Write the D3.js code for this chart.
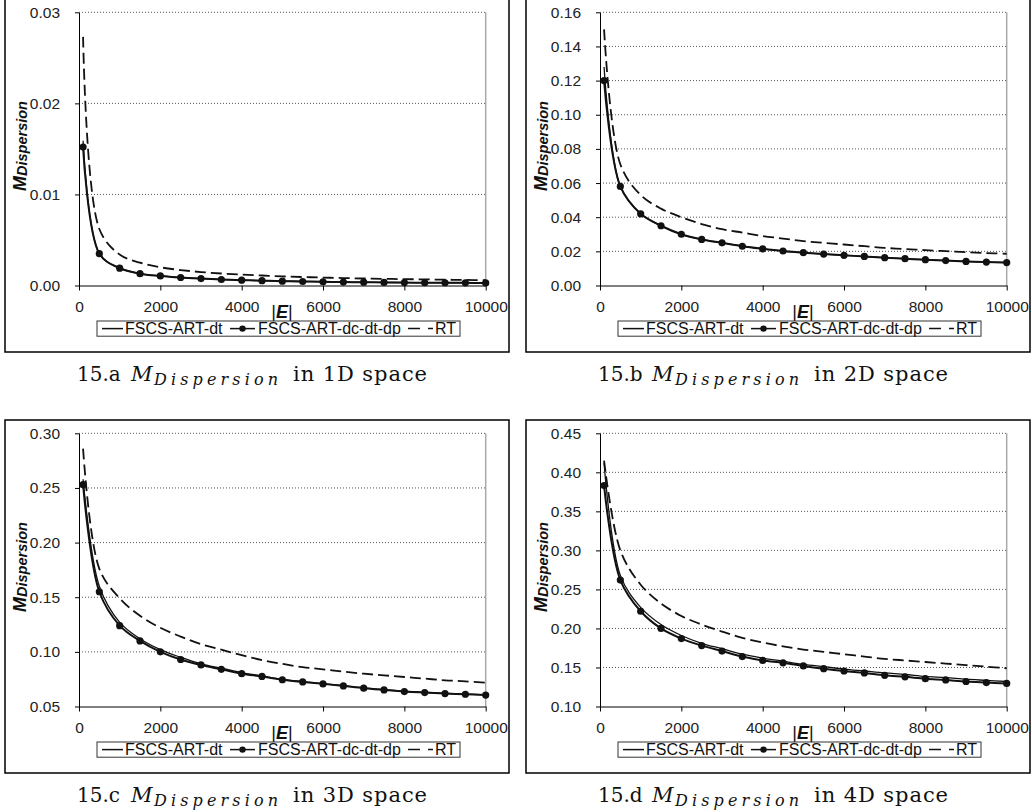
<!DOCTYPE html>
<html>
<head>
<meta charset="utf-8">
<script src="https://cdn.jsdelivr.net/npm/d3@7/dist/d3.min.js"></script>
<style>
  html, body { margin: 0; padding: 0; background: #fff; }
  svg { display: block; }
</style>
</head>
<body>
<svg id="chart" width="1032" height="812"></svg>
<script>
// Number of test cases |E| at which each metric was sampled
const xValues = [100, 500, 1000, 1500, 2000, 2500, 3000, 3500, 4000, 4500, 5000,
                 5500, 6000, 6500, 7000, 7500, 8000, 8500, 9000, 9500, 10000];
const xTicks = [0, 2000, 4000, 6000, 8000, 10000];

const seriesNames = ["FSCS-ART-dt", "FSCS-ART-dc-dt-dp", "RT"];

// 1D space
const dt1D     = [0.0159, 0.0035, 0.0019, 0.0013, 0.00105, 0.00088, 0.00076, 0.00066, 0.00059, 0.00053, 0.00048,
                  0.00044, 0.00041, 0.00038, 0.00036, 0.00034, 0.00032, 0.00031, 0.0003, 0.00029, 0.00028];
const dcdtdp1D = [0.0152, 0.0035, 0.0019, 0.0013, 0.00105, 0.00088, 0.00076, 0.00066, 0.00059, 0.00053, 0.00048,
                  0.00044, 0.00041, 0.00038, 0.00036, 0.00034, 0.00032, 0.00031, 0.0003, 0.00029, 0.00028];
const rt1D     = [0.0273, 0.0062, 0.0034, 0.0025, 0.0020, 0.0017, 0.00148, 0.00132, 0.0012, 0.0011, 0.001,
                  0.00093, 0.00087, 0.00082, 0.00077, 0.00073, 0.0007, 0.00067, 0.00064, 0.00061, 0.00059];
const yTicks1D = [0.00, 0.01, 0.02, 0.03];

// 2D space
const dt2D     = [0.128, 0.058, 0.042, 0.035, 0.030, 0.027, 0.025, 0.023, 0.0215, 0.0202, 0.0192,
                  0.0184, 0.0177, 0.017, 0.0163, 0.0157, 0.0151, 0.0146, 0.0141, 0.0137, 0.0134];
const dcdtdp2D = [0.120, 0.058, 0.042, 0.035, 0.030, 0.027, 0.025, 0.023, 0.0215, 0.0202, 0.0192,
                  0.0184, 0.0177, 0.017, 0.0163, 0.0157, 0.0151, 0.0146, 0.0141, 0.0137, 0.0134];
const rt2D     = [0.150, 0.071, 0.053, 0.045, 0.040, 0.036, 0.033, 0.031, 0.029, 0.0275, 0.026,
                  0.025, 0.024, 0.023, 0.022, 0.0214, 0.0207, 0.0201, 0.0195, 0.019, 0.0186];
const yTicks2D = [0.00, 0.02, 0.04, 0.06, 0.08, 0.10, 0.12, 0.14, 0.16];

// 3D space
const dt3D     = [0.258, 0.160, 0.127, 0.112, 0.102, 0.095, 0.089, 0.085, 0.081, 0.078, 0.0748,
                  0.0728, 0.0709, 0.069, 0.067, 0.0655, 0.064, 0.063, 0.062, 0.0613, 0.0606];
const dcdtdp3D = [0.253, 0.155, 0.124, 0.110, 0.100, 0.093, 0.088, 0.084, 0.080, 0.0775, 0.0745,
                  0.0725, 0.0707, 0.0688, 0.0668, 0.0652, 0.0637, 0.0627, 0.0618, 0.0612, 0.0605];
const rt3D     = [0.286, 0.176, 0.149, 0.133, 0.122, 0.114, 0.107, 0.102, 0.097, 0.0925, 0.089,
                  0.086, 0.084, 0.082, 0.080, 0.0785, 0.077, 0.0755, 0.074, 0.073, 0.0718];
const yTicks3D = [0.05, 0.10, 0.15, 0.20, 0.25, 0.30];

// 4D space
const dt4D     = [0.412, 0.268, 0.227, 0.205, 0.191, 0.181, 0.174, 0.167, 0.162, 0.158, 0.154,
                  0.151, 0.148, 0.1455, 0.143, 0.141, 0.1385, 0.137, 0.135, 0.1335, 0.132];
const dcdtdp4D = [0.383, 0.262, 0.222, 0.200, 0.187, 0.178, 0.171, 0.164, 0.159, 0.156, 0.152,
                  0.1485, 0.1455, 0.143, 0.140, 0.138, 0.1357, 0.134, 0.132, 0.1307, 0.1295];
const rt4D     = [0.415, 0.300, 0.256, 0.232, 0.216, 0.205, 0.196, 0.188, 0.182, 0.177, 0.173,
                  0.170, 0.167, 0.164, 0.161, 0.159, 0.157, 0.155, 0.153, 0.151, 0.149];
const yTicks4D = [0.10, 0.15, 0.20, 0.25, 0.30, 0.35, 0.40, 0.45];

const panels = [
  { ox: 0,   oy: 0,   tag: "15.a", space: "in 1D space", dt: dt1D, dc: dcdtdp1D, rt: rt1D, yTicks: yTicks1D },
  { ox: 521, oy: 0,   tag: "15.b", space: "in 2D space", dt: dt2D, dc: dcdtdp2D, rt: rt2D, yTicks: yTicks2D },
  { ox: 0,   oy: 421, tag: "15.c", space: "in 3D space", dt: dt3D, dc: dcdtdp3D, rt: rt3D, yTicks: yTicks3D },
  { ox: 521, oy: 421, tag: "15.d", space: "in 4D space", dt: dt4D, dc: dcdtdp4D, rt: rt4D, yTicks: yTicks4D }
];

const svg = d3.select("#chart");
const sans = "'Liberation Sans', Arial, Helvetica, sans-serif";
const serif = "'DejaVu Serif', 'Liberation Serif', serif";

panels.forEach(p => {
  const g = svg.append("g").attr("transform", `translate(${p.ox},${p.oy})`);

  // frame around the chart
  g.append("rect")
    .attr("x", 5).attr("y", -1).attr("width", 504).attr("height", 353)
    .attr("fill", "none").attr("stroke", "#000").attr("stroke-width", 1.5);

  const x = d3.scaleLinear().domain([0, 10000]).range([79, 485.7]);
  const yMin = p.yTicks[0], yMax = p.yTicks[p.yTicks.length - 1];
  const y = d3.scaleLinear().domain([yMin, yMax]).range([285.5, 12.3]);

  // dotted horizontal gridlines
  g.append("g").selectAll("line")
    .data(p.yTicks.slice(1))
    .join("line")
    .attr("x1", x(0)).attr("x2", x(10000))
    .attr("y1", d => y(d)).attr("y2", d => y(d))
    .attr("stroke", "#555").attr("stroke-width", 1)
    .attr("stroke-dasharray", "1,2");

  // right edge of the plot area
  g.append("line")
    .attr("x1", x(10000)).attr("x2", x(10000))
    .attr("y1", y(yMax)).attr("y2", y(yMin))
    .attr("stroke", "#aaa").attr("stroke-width", 1.5);

  // axes
  const yAxis = d3.axisLeft(y).tickValues(p.yTicks).tickFormat(d3.format(".2f"))
    .tickSize(4).tickSizeOuter(0).tickPadding(15);
  const ga = g.append("g").attr("transform", `translate(${x(0)},0)`).call(yAxis);
  ga.selectAll("text").attr("font-family", sans).attr("font-size", 15.5).attr("fill", "#222");
  ga.selectAll("path, line").attr("stroke", "#000");

  const xAxis = d3.axisBottom(x).tickValues(xTicks).tickFormat(d3.format("d"))
    .tickSize(5).tickSizeOuter(0).tickPadding(10.5);
  const gx = g.append("g").attr("transform", `translate(0,${y(yMin)})`).call(xAxis);
  gx.selectAll("text").attr("font-family", sans).attr("font-size", 15.5).attr("fill", "#222");
  gx.selectAll("path, line").attr("stroke", "#000");

  // |E| axis title
  const xt = g.append("text").attr("x", 282).attr("y", 317.5)
    .attr("text-anchor", "middle").attr("font-family", sans).attr("font-size", 18).attr("fill", "#111");
  xt.append("tspan").text("|");
  xt.append("tspan").attr("font-weight", "bold").attr("font-style", "italic").text("E");
  xt.append("tspan").text("|");

  // y axis title
  const yt = g.append("text")
    .attr("transform", "translate(26,146) rotate(-90)")
    .attr("text-anchor", "middle").attr("font-family", sans)
    .attr("font-weight", "bold").attr("font-style", "italic").attr("fill", "#111");
  yt.append("tspan").attr("font-size", 18).text("M");
  yt.append("tspan").attr("font-size", 14.5).attr("dy", 1).text("Dispersion");

  // series
  const pts = arr => arr.map((v, i) => [xValues[i], v]);
  const line = d3.line().x(d => x(d[0])).y(d => y(d[1])).curve(d3.curveCatmullRom.alpha(0.5));

  g.append("path").datum(pts(p.rt))
    .attr("d", line).attr("fill", "none").attr("stroke", "#111")
    .attr("stroke-width", 1.8).attr("stroke-dasharray", "11,5");

  g.append("path").datum(pts(p.dt))
    .attr("d", line).attr("fill", "none").attr("stroke", "#111").attr("stroke-width", 1.3);

  g.append("path").datum(pts(p.dc))
    .attr("d", line).attr("fill", "none").attr("stroke", "#111").attr("stroke-width", 2);

  g.append("g").selectAll("circle")
    .data(pts(p.dc))
    .join("circle")
    .attr("cx", d => x(d[0])).attr("cy", d => y(d[1])).attr("r", 3.6)
    .attr("fill", "#111");

  // legend
  const ly = 328.6;
  g.append("rect")
    .attr("x", 97).attr("y", 321).attr("width", 363).attr("height", 15.2)
    .attr("fill", "#fff").attr("stroke", "#333").attr("stroke-width", 1);
  const lg = g.append("g").attr("font-family", sans).attr("font-size", 16).attr("fill", "#111");
  lg.append("line").attr("x1", 102).attr("x2", 123).attr("y1", ly).attr("y2", ly)
    .attr("stroke", "#111").attr("stroke-width", 1.5);
  lg.append("text").attr("x", 125).attr("y", ly + 5.6).text(seriesNames[0]);
  lg.append("line").attr("x1", 230).attr("x2", 255).attr("y1", ly).attr("y2", ly)
    .attr("stroke", "#111").attr("stroke-width", 1.5);
  lg.append("circle").attr("cx", 242.5).attr("cy", ly).attr("r", 3.2).attr("fill", "#111");
  lg.append("text").attr("x", 258).attr("y", ly + 5.6).text(seriesNames[1]);
  lg.append("line").attr("x1", 408).attr("x2", 433).attr("y1", ly).attr("y2", ly)
    .attr("stroke", "#111").attr("stroke-width", 1.5).attr("stroke-dasharray", "12,8");
  lg.append("text").attr("x", 435).attr("y", ly + 5.6).text(seriesNames[2]);

  // caption below the frame
  const cg = g.append("g").attr("font-family", serif).attr("fill", "#111");
  cg.append("text").attr("x", 77).attr("y", 380.7).attr("font-size", 20).text(p.tag);
  cg.append("text").attr("x", 131).attr("y", 380.7).attr("font-size", 21)
    .attr("font-style", "italic").text("M");
  cg.append("text").attr("x", 154).attr("y", 384.5).attr("font-size", 16)
    .attr("font-style", "italic").attr("textLength", 124).attr("lengthAdjust", "spacing")
    .text("Dispersion");
  cg.append("text").attr("x", 293).attr("y", 380.7).attr("font-size", 21)
    .attr("textLength", 134).attr("lengthAdjust", "spacing").text(p.space);
});
</script>
</body>
</html>
